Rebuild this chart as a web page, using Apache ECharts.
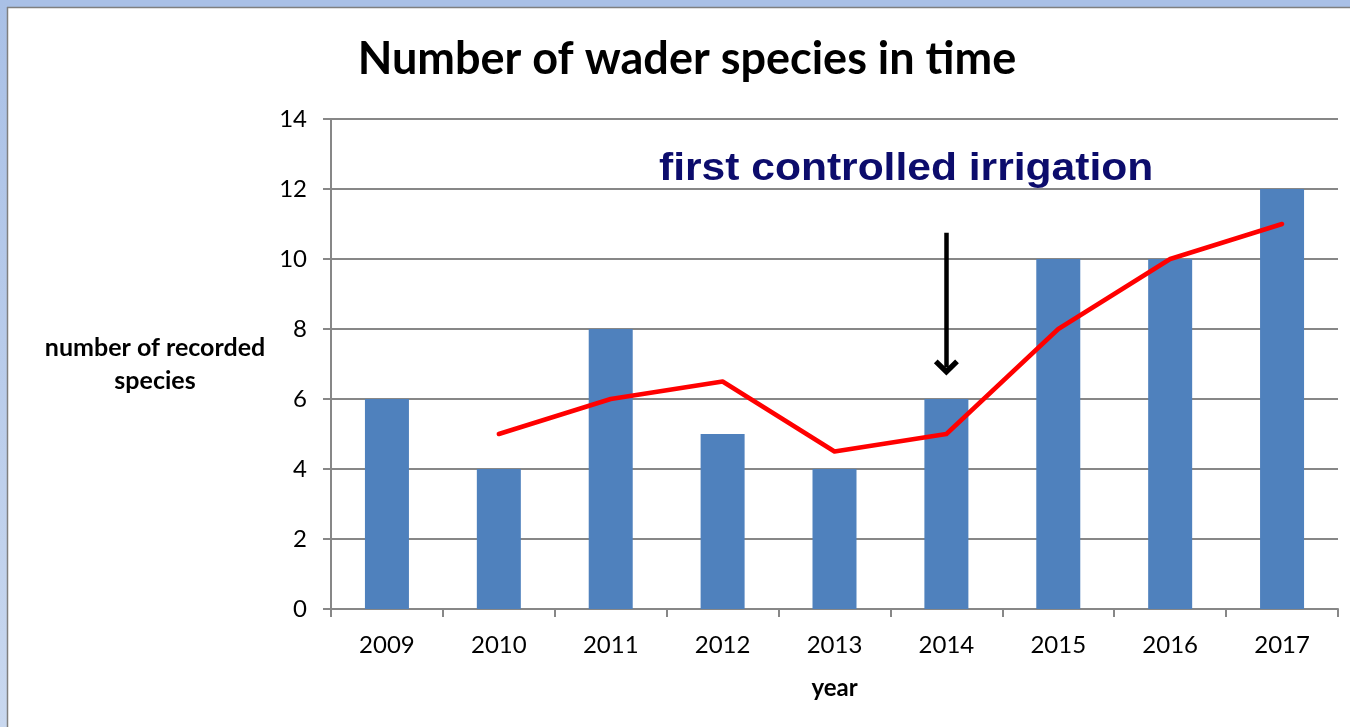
<!DOCTYPE html>
<html>
<head>
<meta charset="utf-8">
<script src="https://cdn.jsdelivr.net/npm/echarts@6/dist/echarts.min.js"></script>
<style>
html,body{margin:0;padding:0;background:#fff;}
#chart{width:1350px;height:727px;}
</style>
</head>
<body>
<div id="chart"></div>
<script>
const years = ['2009','2010','2011','2012','2013','2014','2015','2016','2017'];
const speciesCounts = [6, 4, 8, 5, 4, 6, 10, 10, 12];
const trendValues = [null, 5, 6, 6.5, 4.5, 5, 8, 10, 11];
const yTicks = {min: 0, max: 14, interval: 2};
const arrowYear = '2014';
const arrowFrom = 10.75;
const arrowTo = 6.9;
const titleText = 'Number of wader species in time';
const annotationText = 'first controlled irrigation';
const yAxisTitle = 'number of recorded\nspecies';
const xAxisTitle = 'year';

const FONT = 'Lato, "Open Sans", sans-serif';
const GRID_COLOR = '#878787';

const chart = echarts.init(document.getElementById('chart'), null, {renderer: 'canvas'});
chart.setOption({
  backgroundColor: '#ffffff',
  animation: false,
  title: {
    text: titleText,
    left: 682, top: 32, textAlign: 'center',
    textStyle: {fontFamily: FONT, fontWeight: 'bold', fontSize: 45, color: '#000'}
  },
  graphic: [
    {type: 'rect', z: -10, shape: {x: 0, y: 0, width: 1350, height: 7}, style: {fill: '#a9c0e6'}},
    {type: 'rect', z: -10, shape: {x: 0, y: 0, width: 7, height: 727},
     style: {fill: new echarts.graphic.LinearGradient(0, 0, 0, 1, [{offset: 0, color: '#a9c0e6'}, {offset: 1, color: '#c9d8ef'}])}},
    {type: 'line', z: -9, shape: {x1: 7, y1: 7.5, x2: 1350, y2: 7.5}, style: {stroke: '#7f7f7f', lineWidth: 1.5}},
    {type: 'line', z: -9, shape: {x1: 7.5, y1: 7, x2: 7.5, y2: 727}, style: {stroke: '#7f7f7f', lineWidth: 1.5}},
    {type: 'text', left: 659, top: 151, scaleX: 1.12,
     style: {text: annotationText, fontFamily: '"Liberation Sans", Arial, sans-serif', fontWeight: 'bold', fontSize: 38, fill: '#0c0c6c'}}
  ],
  grid: {left: 331, top: 119, right: 12, bottom: 118, containLabel: false},
  xAxis: {
    type: 'category',
    data: years,
    name: xAxisTitle,
    nameLocation: 'middle',
    nameGap: 67,
    nameTextStyle: {fontFamily: FONT, fontWeight: 'bold', fontSize: 24, color: '#000'},
    axisLine: {lineStyle: {color: GRID_COLOR, width: 2}},
    axisTick: {show: true, length: 8, lineStyle: {color: GRID_COLOR, width: 2}},
    axisLabel: {fontFamily: FONT, fontSize: 24, color: '#000', margin: 24}
  },
  yAxis: {
    type: 'value',
    min: yTicks.min, max: yTicks.max, interval: yTicks.interval,
    name: yAxisTitle,
    nameLocation: 'middle',
    nameRotate: 0,
    nameGap: 176,
    nameTextStyle: {fontFamily: FONT, fontWeight: 'bold', fontSize: 25, color: '#000', align: 'center', verticalAlign: 'middle', lineHeight: 33},
    axisLine: {show: true, lineStyle: {color: GRID_COLOR, width: 2}},
    axisTick: {show: true, length: 8, lineStyle: {color: GRID_COLOR, width: 2}},
    splitLine: {lineStyle: {color: GRID_COLOR, width: 2}},
    axisLabel: {fontFamily: FONT, fontSize: 24, color: '#000', margin: 24}
  },
  series: [
    {
      type: 'bar',
      data: speciesCounts,
      barWidth: 44,
      itemStyle: {color: '#4f81bd'},
      z: 2
    },
    {
      type: 'line',
      data: trendValues,
      showSymbol: false,
      symbol: 'none',
      connectNulls: false,
      lineStyle: {color: '#ff0000', width: 4.5, cap: 'round', join: 'round'},
      z: 3,
      markLine: {
        silent: true,
        symbol: ['none', 'path://M10,0 L20,10 L17,13 L10,6 L3,13 L0,10 Z'],
        symbolSize: [25, 16],
        symbolOffset: [0, 0],
        label: {show: false},
        lineStyle: {color: '#000', width: 4.5, type: 'solid'},
        data: [[{coord: [arrowYear, arrowFrom]}, {coord: [arrowYear, arrowTo]}]]
      }
    }
  ]
});
</script>
</body>
</html>
